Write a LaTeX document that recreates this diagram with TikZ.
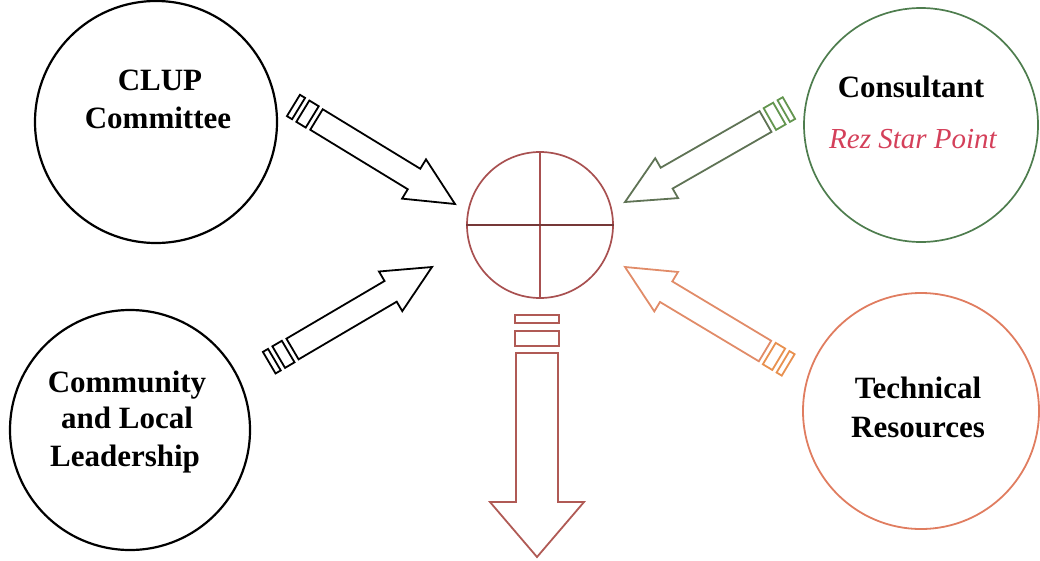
\documentclass[tikz,border=0pt]{standalone}
\usepackage{fontspec}
\setmainfont{Liberation Serif}
\usetikzlibrary{calc}
\definecolor{cgreen}{RGB}{78,125,78}
\definecolor{cgreenarr}{RGB}{95,115,85}
\definecolor{cgreenring}{RGB}{100,150,80}
\definecolor{corange}{RGB}{224,125,96}
\definecolor{corangearr}{RGB}{225,140,105}
\definecolor{corangering}{RGB}{232,145,80}
\definecolor{cbrown}{RGB}{168,80,80}
\definecolor{cbrownarr}{RGB}{176,90,85}
\definecolor{crez}{RGB}{212,64,90}
\newcommand\arrowbody[6]{%
  \draw[#3] ($(#1)!#4!90:(#2)$) -- ($(#2)!#6!(#1)!#4!-90:(#1)$) -- ($(#2)!#6!(#1)!#5!-90:(#1)$)
    -- (#2) -- ($(#2)!#6!(#1)!#5!90:(#1)$) -- ($(#2)!#6!(#1)!#4!90:(#1)$) -- ($(#1)!#4!-90:(#2)$) -- cycle;}
\newcommand\arrowring[6]{%
  \draw[#3] ($(#1)!#4!180:(#2)!#6!90:(#1)$) -- ($(#1)!#5!180:(#2)!#6!90:(#1)$)
    -- ($(#1)!#5!180:(#2)!#6!-90:(#1)$) -- ($(#1)!#4!180:(#2)!#6!-90:(#1)$) -- cycle;}
\tikzset{
  bigcirc/.style={circle, draw, inner sep=0pt, line width=2.2pt},
  lbl/.style={font=\fontsize{31}{37}\selectfont\bfseries, anchor=base, inner sep=0pt},
  arr/.style={line width=1.8pt, line join=miter}
}
\begin{document}
\begin{tikzpicture}[x=1pt, y=-1pt]
\useasboundingbox (0,0) rectangle (1040,560);
% circles
\node[bigcirc, minimum size=242pt] (clup) at (156,122) {};
\node[bigcirc, minimum size=240pt] (comm) at (130,430) {};
\node[bigcirc, draw=cgreen, line width=1.7pt, minimum size=234pt] (cons) at (921,125) {};
\node[bigcirc, draw=corange, line width=1.8pt, minimum size=236pt] (tech) at (921,411) {};
\node[circle, draw=cbrown, line width=1.7pt, inner sep=0pt, minimum size=146pt] (ctr) at (540,225) {};
\draw[cbrown, line width=1.7pt] (ctr.north) -- (ctr.south);
\draw[cbrown!70!black, line width=1.7pt] (ctr.west) -- (ctr.east);
% texts
\node[lbl] (t1a) at (160,90) {CLUP};
\node[lbl] (t1b) at (158,128) {Committee};
\node[lbl] (t2a) at (127,392) {Community};
\node[lbl] (t2b) at (127,428) {and Local};
\node[lbl] (t2c) at (125,466) {Leadership};
\node[lbl] (t3a) at (911,97) {Consultant};
\node[anchor=base, inner sep=0pt, text=crez, font=\fontsize{29}{34}\selectfont\itshape] (t3b) at (913,148) {Rez Star Point};
\node[lbl] (t4a) at (918,398) {Technical};
\node[lbl] (t4b) at (918,437) {Resources};
% arrow coordinates
\coordinate (a1t) at (316.5,119.5); \coordinate (a1h) at (455,204);
\coordinate (a2t) at (292.5,349);   \coordinate (a2h) at (432,267);
\coordinate (a3t) at (765.5,121.5); \coordinate (a3h) at (625,202);
\coordinate (a4t) at (765,351);     \coordinate (a4h) at (625,267);
\coordinate (a5t) at (537,353);     \coordinate (a5h) at (537,557);
% arrows
\arrowbody{a1t}{a1h}{arr}{12pt}{23pt}{48pt}
\arrowring{a1t}{a1h}{arr}{5pt}{16pt}{12.5pt}
\arrowring{a1t}{a1h}{arr}{21pt}{27pt}{12.5pt}
\arrowbody{a2t}{a2h}{arr}{12pt}{23pt}{48pt}
\arrowring{a2t}{a2h}{arr}{5pt}{16pt}{12.5pt}
\arrowring{a2t}{a2h}{arr}{21pt}{27pt}{12.5pt}
\arrowbody{a3t}{a3h}{arr, draw=cgreenarr}{12pt}{23pt}{48pt}
\arrowring{a3t}{a3h}{arr, draw=cgreenring}{5pt}{16pt}{12.5pt}
\arrowring{a3t}{a3h}{arr, draw=cgreenring}{21pt}{27pt}{12.5pt}
\arrowbody{a4t}{a4h}{arr, draw=corangearr}{12pt}{23pt}{48pt}
\arrowring{a4t}{a4h}{arr, draw=corangering}{5pt}{16pt}{12.5pt}
\arrowring{a4t}{a4h}{arr, draw=corangering}{21pt}{27pt}{12.5pt}
\arrowbody{a5t}{a5h}{arr, draw=cbrownarr}{21pt}{47pt}{55pt}
\arrowring{a5t}{a5h}{arr, draw=cbrownarr}{7pt}{22pt}{22pt}
\arrowring{a5t}{a5h}{arr, draw=cbrownarr}{30pt}{38pt}{22pt}
\end{tikzpicture}
\end{document}
